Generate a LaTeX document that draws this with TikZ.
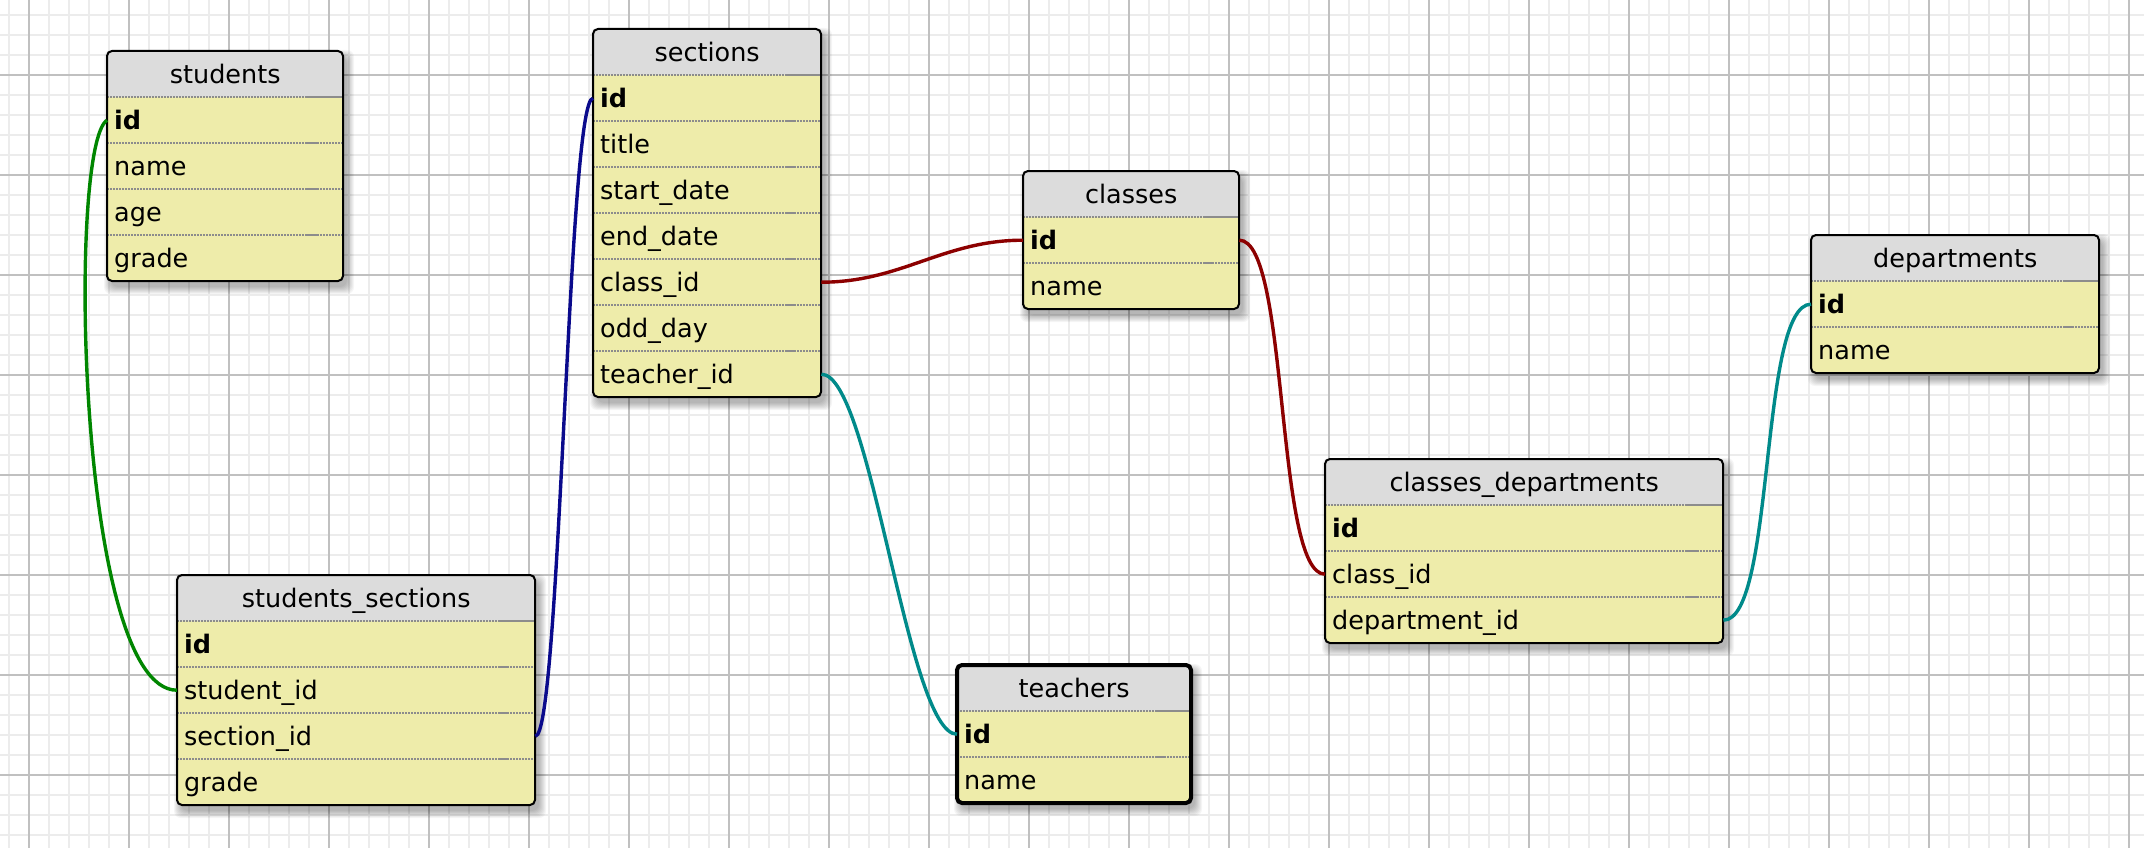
\documentclass[tikz,border=0pt]{standalone}
\usepackage{fontspec}
\setmainfont{DejaVu Sans}

\definecolor{headfill}{RGB}{220,220,220}
\definecolor{rowfill}{RGB}{238,236,170}
\definecolor{gridminor}{RGB}{236,236,236}
\definecolor{gridmajor}{RGB}{192,192,192}
\definecolor{sepgray}{RGB}{140,140,140}
\definecolor{fkgreen}{RGB}{0,134,0}
\definecolor{fkblue}{RGB}{10,10,140}
\definecolor{fkred}{RGB}{140,0,0}
\definecolor{fkteal}{RGB}{0,138,138}

\tikzset{
  tabfont/.style={font=\fontsize{25.5}{30}\selectfont},
  headtext/.style={tabfont, anchor=north west, inner sep=0pt,
    minimum height=46, text height=22, text depth=4, align=center},
  fieldtext/.style={tabfont, anchor=north west, inner xsep=7, inner ysep=0pt,
    minimum height=46, text height=22, text depth=4, align=left},
  sepdots/.style={sepgray, line width=1.5, dash pattern=on 1.5pt off 1.5pt},
  sepsolid/.style={sepgray, line width=1.6},
  frame/.style={black, line width=2, rounded corners=5},
  selframe/.style={black, line width=4, rounded corners=5},
  fk/.style={line width=3.4},
}

% \dbtable{prefix}{title}{left}{top}{width}{key/label,...}{frame style}
\newcommand\dbtable[7]{%
  \foreach \fk/\flab [count=\i] in {#6} {\xdef\tblN{\i}}%
  \pgfmathsetmacro\tblR{#3+#5}%
  \pgfmathsetmacro\tblB{#4+46*(\tblN+1)}%
  \pgfmathsetmacro\tblH{#4+46}%
  \pgfmathsetmacro\tblTW{#5-14}%
  % soft drop shadow
  \foreach \s in {0,...,7} {
    \fill[black, opacity=0.04, rounded corners=7]
      ({#3+4-\s},{#4+6-\s}) rectangle ({\tblR+4+\s},{\tblB+6+\s});
  }
  % body and header fills
  \fill[rowfill, rounded corners=5] (#3,#4) rectangle (\tblR,\tblB);
  \fill[headfill] (#3,\tblH) [rounded corners=5] -- (#3,#4) -- (\tblR,#4)
    [sharp corners] -- (\tblR,\tblH) -- cycle;
  % title and fields
  \node[headtext, minimum width=#5, text width=#5] (#1) at (#3,#4) {#2};
  \foreach \fk/\flab [count=\i] in {#6} {
    \node[fieldtext, minimum width=#5, text width=\tblTW pt]
      (#1-\fk) at (#3,{#4+46*\i}) {\flab};
  }
  % row separators
  \foreach \i in {1,...,\tblN} {
    \pgfmathsetmacro\sepY{#4+46*\i}
    \draw[sepdots] (#3,\sepY) -- (\tblR,\sepY);
  }
  \draw[sepsolid] ({\tblR-36},\tblH) -- (\tblR,\tblH);
  \ifnum\tblN>1
    \foreach \i in {2,...,\tblN} {
      \pgfmathsetmacro\sepY{#4+46*\i}
      \draw[sepsolid] ({\tblR-36},\sepY) -- ({\tblR-26},\sepY);
    }
  \fi
  % outline
  \draw[#7] (#3,#4) rectangle (\tblR,\tblB);
}

\begin{document}
\begin{tikzpicture}[x=1pt, y=-1pt]
  \useasboundingbox (0,0) rectangle (2144,848);
  \fill[white] (0,0) rectangle (2144,848);

  % background grid
  \foreach \gx in {9,29,...,2144} \draw[gridminor, line width=1.6] (\gx,0) -- (\gx,848);
  \foreach \gy in {15,35,...,848} \draw[gridminor, line width=1.6] (0,\gy) -- (2144,\gy);
  \foreach \gx in {29,129,...,2144} \draw[gridmajor, line width=2] (\gx,0) -- (\gx,848);
  \foreach \gy in {75,175,...,848} \draw[gridmajor, line width=2] (0,\gy) -- (2144,\gy);

  % tables
  \dbtable{students}{students}{107}{51}{236}
    {id/\textbf{id}, name/name, age/age, grade/grade}{frame}
  \dbtable{sections}{sections}{593}{29}{228}
    {id/\textbf{id}, title/title, start_date/start\_date, end_date/end\_date,
     class_id/class\_id, odd_day/odd\_day, teacher_id/teacher\_id}{frame}
  \dbtable{classes}{classes}{1023}{171}{216}
    {id/\textbf{id}, name/name}{frame}
  \dbtable{departments}{departments}{1811}{235}{288}
    {id/\textbf{id}, name/name}{frame}
  \dbtable{cd}{classes\_departments}{1325}{459}{398}
    {id/\textbf{id}, class_id/class\_id, department_id/department\_id}{frame}
  \dbtable{ss}{students\_sections}{177}{575}{358}
    {id/\textbf{id}, student_id/student\_id, section_id/section\_id, grade/grade}{frame}
  \dbtable{teachers}{teachers}{957}{665}{234}
    {id/\textbf{id}, name/name}{selframe}

  % foreign key relations
  \draw[fk, fkgreen] (students-id.west) .. controls +(-40,26) and +(-100,0) .. (ss-student_id.west);
  \draw[fk, fkblue] (sections-id.west) .. controls +(-25,0) and +(25,0) .. (ss-section_id.east);
  \draw[fk, fkred] (sections-class_id.east) .. controls +(80,0) and +(-80,0) .. (classes-id.west);
  \draw[fk, fkred] (classes-id.east) .. controls +(50,0) and +(-50,0) .. (cd-class_id.west);
  \draw[fk, fkteal] (sections-teacher_id.east) .. controls +(50,0) and +(-50,0) .. (teachers-id.west);
  \draw[fk, fkteal] (cd-department_id.east) .. controls +(52,0) and +(-52,0) .. (departments-id.west);
\end{tikzpicture}
\end{document}
